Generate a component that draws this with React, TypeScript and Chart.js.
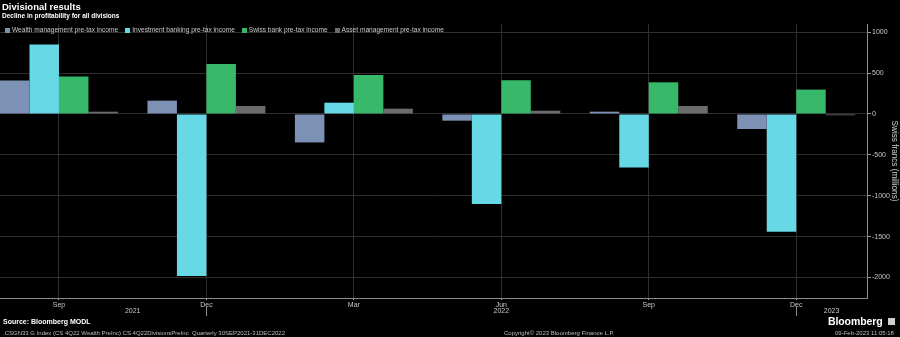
import React, { useEffect, useRef } from "react";
import { Chart, registerables } from "chart.js";

Chart.register(...registerables);

const quarters = ["Sep", "Dec", "Mar", "Jun", "Sep", "Dec"];
const yearLabels = ["2021", "2022", "2023"];
const yearPositions = [0.5, 3, 5.24];
const yearBoundaries = [1, 5];

const wealthMgmt = [408, 163, -348, -82, 28, -184];
const investmentBanking = [848, -1980, 138, -1102, -654, -1441];
const swissBank = [457, 612, 477, 411, 387, 298];
const assetMgmt = [28, 98, 65, 40, 98, -16];

const seriesNames = [
  "Wealth management pre-tax income",
  "Investment banking pre-tax income",
  "Swiss bank pre-tax income",
  "Asset management pre-tax income",
];
const seriesColors = ["#7d91b4", "#66d8e6", "#37b86a", "#6c6c6c"];
const yTicks = [1000, 500, 0, -500, -1000, -1500, -2000];

const FONT = "'Liberation Sans', Arial, sans-serif";

export default function App() {
  const canvasRef = useRef<HTMLCanvasElement | null>(null);

  useEffect(() => {
    const canvas = canvasRef.current;
    if (!canvas) return;
    const allSeries = [wealthMgmt, investmentBanking, swissBank, assetMgmt];

    const yearAxis = {
      id: "yearAxis",
      afterDraw(chart: any) {
        const xs = chart.scales.x;
        const ca = chart.chartArea;
        const ctx = chart.ctx;
        ctx.save();
        ctx.strokeStyle = "#8c8c8c";
        ctx.lineWidth = 1;
        yearBoundaries.forEach((b) => {
          const px = Math.round(xs.getPixelForValue(b)) + 0.5;
          ctx.beginPath();
          ctx.moveTo(px, ca.bottom + 9);
          ctx.lineTo(px, ca.bottom + 18);
          ctx.stroke();
        });
        ctx.fillStyle = "#c8c8c8";
        ctx.font = `7px ${FONT}`;
        ctx.textAlign = "center";
        ctx.textBaseline = "middle";
        yearLabels.forEach((lab, i) => {
          ctx.fillText(lab, xs.getPixelForValue(yearPositions[i]), ca.bottom + 13);
        });
        ctx.restore();
      },
    };

    const chart = new Chart(canvas, {
      type: "bar",
      data: {
        datasets: allSeries.map((s, k) => ({
          label: seriesNames[k],
          data: s.map((v, i) => ({ x: i, y: v })),
          backgroundColor: seriesColors[k],
          borderWidth: 0,
          categoryPercentage: 0.8,
          barPercentage: 1,
        })),
      },
      options: {
        animation: false,
        responsive: false,
        devicePixelRatio: 1,
        layout: { padding: { top: 24, bottom: 19, left: 0, right: 0 } },
        plugins: {
          legend: { display: false },
          tooltip: { enabled: false },
          title: { display: false },
        },
        scales: {
          x: {
            type: "linear",
            min: -0.4,
            max: 5.48,
            offset: false,
            afterBuildTicks: (s: any) => {
              s.ticks = quarters.map((_, i) => ({ value: i }));
            },
            afterFit: (s: any) => {
              s.height = 20;
            },
            ticks: {
              autoSkip: false,
              maxRotation: 0,
              minRotation: 0,
              color: "#c8c8c8",
              padding: 1,
              font: { family: FONT, size: 7 },
              callback: (v: any) => quarters[Number(v)] ?? "",
            },
            grid: {
              offset: false,
              color: "#2e2e2e",
              tickColor: "#aaaaaa",
              tickLength: 2,
              lineWidth: 1,
            },
            border: { display: true, color: "#8c8c8c", width: 1 },
          },
          y: {
            position: "right",
            min: -2250,
            max: 1100,
            afterBuildTicks: (s: any) => {
              s.ticks = yTicks.map((v) => ({ value: v }));
            },
            afterFit: (s: any) => {
              s.width = 33;
            },
            ticks: {
              color: "#c8c8c8",
              padding: 1,
              font: { family: FONT, size: 7 },
              callback: (v: any) => String(v),
            },
            grid: {
              color: "#2e2e2e",
              tickColor: "#9a9a9a",
              tickLength: 4,
            },
            border: { display: true, color: "#8c8c8c", width: 1 },
            title: {
              display: true,
              text: "Swiss francs (millions)",
              color: "#d0d0d0",
              font: { family: FONT, size: 8.2 },
              padding: { top: 1, bottom: 0 },
            },
          },
        },
      } as any,
      plugins: [yearAxis],
    });
    return () => chart.destroy();
  }, []);

  const txt = (extra: React.CSSProperties): React.CSSProperties => ({
    position: "absolute",
    fontFamily: FONT,
    color: "#d8d8d8",
    whiteSpace: "nowrap",
    lineHeight: 1,
    ...extra,
  });

  return (
    <div
      style={{
        position: "fixed",
        left: 0,
        top: 0,
        width: 900,
        height: 337,
        background: "#000",
        overflow: "hidden",
      }}
    >
      <canvas ref={canvasRef} width={900} height={337} style={{ position: "absolute", left: 0, top: 0 }} />
      <div style={txt({ left: 2, top: 2, fontSize: 9.5, fontWeight: 700, color: "#ffffff" })}>
        Divisional results
      </div>
      <div style={txt({ left: 2, top: 13, fontSize: 6.5, fontWeight: 700, color: "#ffffff" })}>
        Decline in profitability for all divisions
      </div>
      <div
        style={{
          position: "absolute",
          left: 5,
          top: 27,
          display: "flex",
          alignItems: "center",
          gap: 7,
          fontFamily: FONT,
          fontSize: 6.6,
          color: "#c8c8c8",
          lineHeight: 1,
          whiteSpace: "nowrap",
        }}
      >
        {seriesNames.map((n, i) => (
          <div key={n} style={{ display: "flex", alignItems: "center", gap: 2 }}>
            <span style={{ width: 5, height: 5, background: seriesColors[i], display: "inline-block" }} />
            <span>{n}</span>
          </div>
        ))}
      </div>
      <div style={txt({ left: 3, top: 318, fontSize: 7, fontWeight: 700, color: "#ffffff" })}>
        Source: Bloomberg MODL
      </div>
      <div style={txt({ left: 3, top: 330, fontSize: 6, color: "#bdbdbd" })}>
        .CSGN33 G Index (CS 4Q22 Wealth PreInc) CS 4Q22DivisionsPreInc&nbsp;&nbsp;Quarterly 30SEP2021-31DEC2022
      </div>
      <div style={txt({ left: 504, top: 330, fontSize: 6, color: "#bdbdbd" })}>
        Copyright© 2023 Bloomberg Finance L.P.
      </div>
      <div style={txt({ left: 835, top: 330, fontSize: 6, color: "#bdbdbd" })}>
        09-Feb-2023 11:05:18
      </div>
      <div style={txt({ left: 828, top: 316, fontSize: 10.5, fontWeight: 700, color: "#ffffff", letterSpacing: -0.1 })}>
        Bloomberg
      </div>
      <div
        style={{
          position: "absolute",
          left: 888,
          top: 318,
          width: 7,
          height: 7,
          background: "#cfcfcf",
        }}
      />
    </div>
  );
}
